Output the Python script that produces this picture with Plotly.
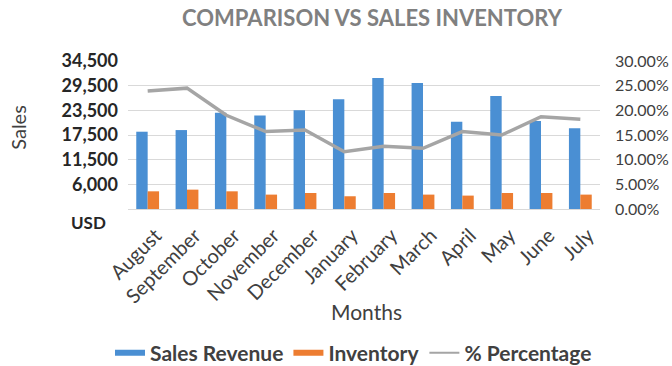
import plotly.graph_objects as go

months = ["August", "September", "October", "November", "December", "January",
          "February", "March", "April", "May", "June", "July"]
sales_revenue = [18800, 19200, 23400, 22760, 24040, 26700,
                 31850, 30640, 21220, 27500, 21390, 19620]
inventory = [4300, 4710, 4300, 3500, 3900, 3100,
             3900, 3500, 3260, 3900, 3900, 3500]
percentage = [0.239, 0.245, 0.190, 0.157, 0.160, 0.116,
              0.127, 0.123, 0.157, 0.150, 0.187, 0.182]
left_tickvals = [0, 6000, 12000, 18000, 24000, 30000, 36000]
left_ticktext = ["", "6,000", "11,500", "17,500", "23,500", "29,500", "34,500"]

FONT = "Lato, 'Open Sans', sans-serif"
BLUE = "#4A8FD3"
ORANGE = "#ED7D31"
GREY = "#A5A5A5"
W, H = 672, 366
L, R, T, B = 128, 72, 61, 156.5
plot_h = H - T - B
plot_w = W - L - R


def px_x(x):
    return (x - L) / plot_w


def px_y(y):
    return (H - B - y) / plot_h


fig = go.Figure()
fig.add_trace(go.Bar(x=months, y=sales_revenue, name="Sales Revenue", showlegend=False,
                     marker=dict(color=BLUE, line=dict(width=0)), yaxis="y"))
fig.add_trace(go.Bar(x=months, y=inventory, name="Inventory", showlegend=False,
                     marker=dict(color=ORANGE, line=dict(width=0)), yaxis="y"))
fig.add_trace(go.Scatter(x=months, y=percentage, name="% Percentage", mode="lines",
                         showlegend=False,
                         line=dict(color=GREY, width=3.5), yaxis="y2"))
# legend entries (Excel style flat line keys)
fig.add_trace(go.Scatter(x=[None], y=[None], mode="lines", name="<b>Sales Revenue</b>",
                         line=dict(color=BLUE, width=6)))
fig.add_trace(go.Scatter(x=[None], y=[None], mode="lines", name="<b>Inventory</b>",
                         line=dict(color=ORANGE, width=6)))
fig.add_trace(go.Scatter(x=[None], y=[None], mode="lines", name="<b>% Percentage</b>",
                         line=dict(color=GREY, width=2)))

fig.update_layout(
    width=W, height=H,
    margin=dict(l=L, r=R, t=T, b=B, autoexpand=False),
    paper_bgcolor="white", plot_bgcolor="white",
    font=dict(family=FONT, color="#404040"),
    barmode="group", bargap=0.42, bargroupgap=0,
    title=dict(text="<b>COMPARISON VS SALES INVENTORY</b>",
               x=372 / W, xanchor="center", y=1 - 18 / H, yanchor="middle",
               font=dict(size=22, color="#808080", family=FONT)),
    xaxis=dict(tickangle=-45, tickfont=dict(size=20, color="#404040"),
               showline=True, linecolor="#D9D9D9", ticks="", showgrid=False,
               automargin=False, ticklabelshift=8, ticklabelstandoff=6),
    yaxis=dict(range=[0, 36000], tickvals=left_tickvals, ticktext=left_ticktext,
               tickfont=dict(size=18, color="#262626", family=FONT, weight="bold"),
               showgrid=True, gridcolor="#D9D9D9", zeroline=False, ticks="",
               ticklabelstandoff=9, automargin=False),
    yaxis2=dict(range=[0, 0.30], dtick=0.05, tickformat=".2%", overlaying="y", side="right",
                showgrid=False, zeroline=False, tickfont=dict(size=16, color="#404040"),
                ticks="", ticklabelstandoff=14, automargin=False),
    legend=dict(orientation="h", x=px_x(110), xanchor="left",
                y=px_y(354), yanchor="middle",
                font=dict(size=21, color="#404040"), traceorder="normal",
                itemwidth=30, bgcolor="rgba(0,0,0,0)"),
    showlegend=True,
)

fig.add_annotation(text="Months", xref="paper", yref="paper",
                   x=px_x(366), y=px_y(312),
                   showarrow=False, font=dict(size=21, color="#404040"),
                   xanchor="center", yanchor="middle")
fig.add_annotation(text="Sales", xref="paper", yref="paper",
                   x=px_x(18), y=px_y(128), textangle=-90,
                   showarrow=False, font=dict(size=20, color="#404040"),
                   xanchor="center", yanchor="middle")
fig.add_annotation(text="<b>USD</b>", xref="paper", yref="paper",
                   x=px_x(88), y=px_y(223),
                   showarrow=False, font=dict(size=17, color="#262626"),
                   xanchor="center", yanchor="middle")

fig.write_html("out.html")
